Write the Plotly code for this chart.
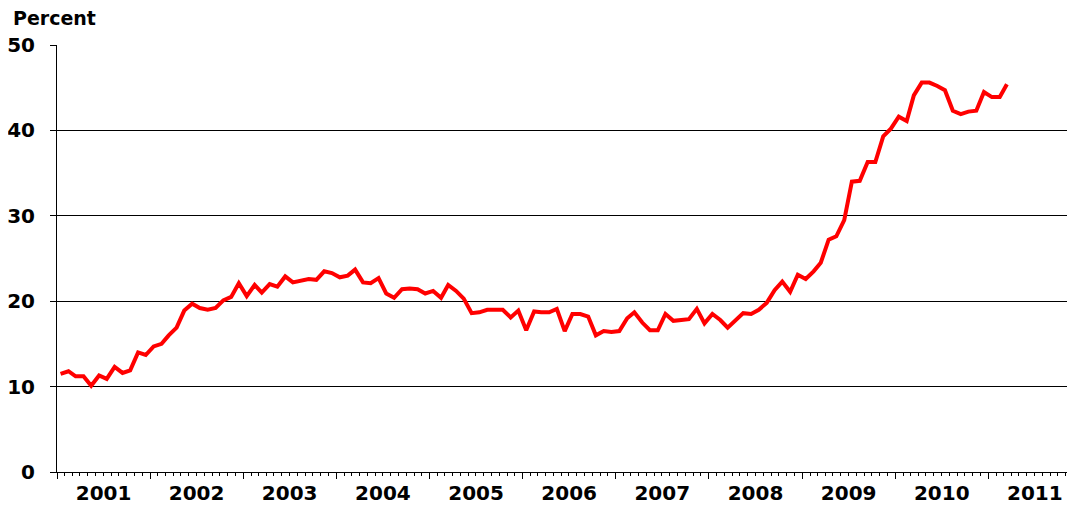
import pandas as pd
import plotly.graph_objects as go


# ==========================================================
# DATA (monthly, Jan 2001 - Mar 2011)
# ==========================================================

start_month = "2001-01-01"

values = [
    # 2001
    11.5, 11.8, 11.2, 11.2, 10.1, 11.3, 10.9, 12.3, 11.6, 11.9, 14.0, 13.7,
    # 2002
    14.7, 15.0, 16.0, 16.9, 18.9, 19.7, 19.2, 19.0, 19.2, 20.1, 20.5, 22.1,
    # 2003
    20.6, 21.9, 21.0, 22.0, 21.7, 22.9, 22.2, 22.4, 22.6, 22.5, 23.5, 23.3,
    # 2004
    22.8, 23.0, 23.7, 22.2, 22.1, 22.7, 20.9, 20.4, 21.4, 21.5, 21.4, 20.9,
    # 2005
    21.2, 20.4, 21.9, 21.2, 20.3, 18.6, 18.7, 19.0, 19.0, 19.0, 18.1, 18.9,
    # 2006
    16.6, 18.8, 18.7, 18.7, 19.1, 16.5, 18.5, 18.5, 18.2, 16.0, 16.5, 16.4,
    # 2007
    16.5, 18.0, 18.7, 17.5, 16.6, 16.6, 18.5, 17.7, 17.8, 17.9, 19.1, 17.4,
    # 2008
    18.5, 17.8, 16.9, 17.8, 18.6, 18.5, 19.0, 19.8, 21.3, 22.3, 21.1, 23.1,
    # 2009
    22.6, 23.5, 24.5, 27.2, 27.6, 29.5, 34.0, 34.1, 36.3, 36.3, 39.3, 40.2,
    # 2010
    41.6, 41.1, 44.1, 45.6, 45.6, 45.2, 44.7, 42.3, 41.9, 42.2, 42.3, 44.5,
    # 2011
    43.9, 43.9, 45.4,
]

months = pd.date_range(start_month, periods=len(values), freq="MS") + pd.Timedelta(days=14)

y_ticks = [0, 10, 20, 30, 40, 50]

FONT = "DejaVu Sans, Liberation Sans, Arial, sans-serif"


# ==========================================================
# FIGURE
# ==========================================================

fig = go.Figure(
    go.Scatter(
        x=months,
        y=values,
        mode="lines",
        line=dict(color="#FF0000", width=4),
        hoverinfo="x+y",
    )
)

# page body keeps its default 8px margin, so the figure is sized to fit
fig.update_layout(
    width=1067,
    height=497,
    plot_bgcolor="white",
    paper_bgcolor="white",
    showlegend=False,
    margin=dict(l=49, r=0, t=37, b=33),
    font=dict(family=FONT, color="black"),
)

fig.update_xaxes(
    type="date",
    range=["2001-01-01", "2011-12-07"],
    dtick="M12",
    tick0="2001-01-01",
    tickformat="%Y",
    ticklabelmode="period",
    ticks="outside",
    ticklen=6,
    tickcolor="black",
    tickwidth=1,
    minor=dict(dtick="M1", ticks="outside", ticklen=3, tickcolor="black", showgrid=False),
    showline=True,
    linecolor="black",
    linewidth=1,
    showgrid=False,
    zeroline=False,
    automargin=False,
    ticklabelstandoff=-3,
    tickfont=dict(family=FONT, size=20, weight="bold"),
)

fig.update_yaxes(
    range=[0, 50],
    tickvals=y_ticks,
    ticks="outside",
    ticklen=6,
    tickcolor="black",
    showline=True,
    linecolor="black",
    linewidth=1,
    showgrid=True,
    gridcolor="black",
    gridwidth=1,
    zeroline=False,
    automargin=False,
    ticklabelstandoff=11,
    tickfont=dict(family=FONT, size=20, weight="bold"),
)

fig.add_annotation(
    text="Percent",
    xref="paper",
    yref="paper",
    x=-0.045,
    y=1.0,
    yshift=27,
    xanchor="left",
    yanchor="middle",
    showarrow=False,
    font=dict(family=FONT, size=19, weight="bold"),
)

fig.write_html("out.html")
